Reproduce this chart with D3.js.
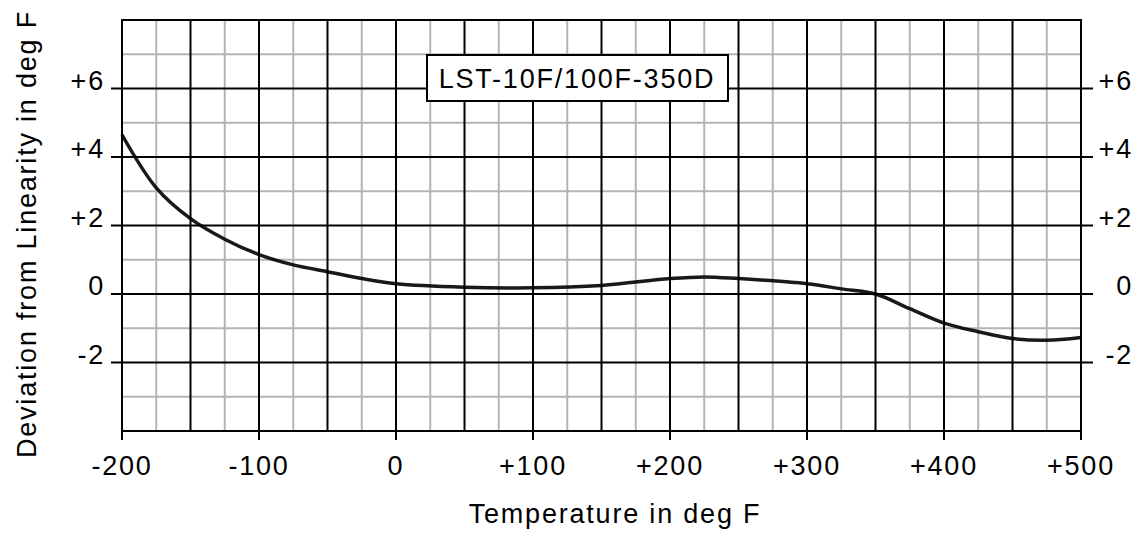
<!DOCTYPE html>
<html><head><meta charset="utf-8">
<script src="https://cdn.jsdelivr.net/npm/d3@7"></script>
<style>
html,body{margin:0;padding:0;background:#fff;}
text{font-family:"Liberation Sans",Arial,sans-serif;font-size:27px;fill:#000;letter-spacing:1.8px;}
</style></head>
<body><svg id="c" width="1140" height="533"></svg>
<script>
const temps = [-200,-175,-150,-125,-100,-75,-50,-25,0,50,100,150,200,225,250,300,325,350,375,400,425,450,475,500];
const deviation = [4.65,3.1,2.2,1.6,1.15,0.85,0.65,0.45,0.3,0.2,0.18,0.25,0.45,0.5,0.45,0.3,0.15,0.0,-0.43,-0.85,-1.1,-1.3,-1.35,-1.27];
const xTicks = [-200,-100,0,100,200,300,400,500];
const xTickLabels = ["-200","-100","0","+100","+200","+300","+400","+500"];
const yTicks = [-2,0,2,4,6];
const yTickLabels = ["-2","0","+2","+4","+6"];
const legendLabel = "LST-10F/100F-350D";
const xTitle = "Temperature in deg F";
const yTitle = "Deviation from Linearity in deg F";

const svg = d3.select("#c");
const L=122, R=1081, T=20, B=431;
const x = d3.scaleLinear().domain([-200,500]).range([L,R]);
const y = d3.scaleLinear().domain([-4,8]).range([B,T]);

// minor grid
const g = svg.append("g");
g.selectAll(".vm").data(d3.range(-175,500,50)).enter().append("line")
 .attr("x1",d=>x(d)).attr("x2",d=>x(d)).attr("y1",T).attr("y2",B)
 .attr("stroke","#b4b4b4").attr("stroke-width",2);
g.selectAll(".hm").data(d3.range(-3,8,2)).enter().append("line")
 .attr("y1",d=>y(d)).attr("y2",d=>y(d)).attr("x1",L).attr("x2",R)
 .attr("stroke","#b4b4b4").attr("stroke-width",2);
// major grid
g.selectAll(".vM").data(d3.range(-150,500,50)).enter().append("line")
 .attr("x1",d=>x(d)).attr("x2",d=>x(d)).attr("y1",T).attr("y2",B)
 .attr("stroke","#000").attr("stroke-width",2);
g.selectAll(".hM").data(yTicks).enter().append("line")
 .attr("y1",d=>y(d)).attr("y2",d=>y(d)).attr("x1",L-11).attr("x2",R+12)
 .attr("stroke","#000").attr("stroke-width",2);
// x ticks
g.selectAll(".xt").data(xTicks).enter().append("line")
 .attr("x1",d=>x(d)).attr("x2",d=>x(d)).attr("y1",B).attr("y2",B+9)
 .attr("stroke","#000").attr("stroke-width",2);
// border
svg.append("rect").attr("x",L).attr("y",T).attr("width",R-L).attr("height",B-T)
 .attr("fill","none").attr("stroke","#000").attr("stroke-width",2);

// curve
const line = d3.line().x(d=>x(d[0])).y(d=>y(d[1])).curve(d3.curveCatmullRom.alpha(0.5));
svg.append("path").datum(temps.map((t,i)=>[t,deviation[i]]))
 .attr("d",line).attr("fill","none").attr("stroke","#000").attr("stroke-width",3.5)
 .attr("stroke-linejoin","round").attr("opacity",0.9);

// tick labels
svg.selectAll(".xl").data(xTicks).enter().append("text")
 .attr("x",d=>x(d)).attr("y",475).attr("text-anchor","middle")
 .text((d,i)=>xTickLabels[i]);
svg.selectAll(".yl").data(yTicks).enter().append("text")
 .attr("x",105).attr("y",d=>y(d)+1).attr("text-anchor","end")
 .text((d,i)=>yTickLabels[i]);
svg.selectAll(".yr").data(yTicks).enter().append("text")
 .attr("x",1133).attr("y",d=>y(d)+1).attr("text-anchor","end")
 .text((d,i)=>yTickLabels[i]);

// titles
svg.append("text").attr("x",615).attr("y",523).attr("text-anchor","middle").text(xTitle);
svg.append("text").attr("transform","translate(36,234) rotate(-90)").attr("text-anchor","middle").text(yTitle);

// legend
const lg = svg.append("g");
const lbox = lg.append("rect").attr("fill","#fff").attr("stroke","#000").attr("stroke-width",2);
const lt = lg.append("text").attr("x",577).attr("y",88).attr("text-anchor","middle").text(legendLabel);
lbox.attr("x",427).attr("y",55).attr("width",301).attr("height",46);
</script></body></html>
